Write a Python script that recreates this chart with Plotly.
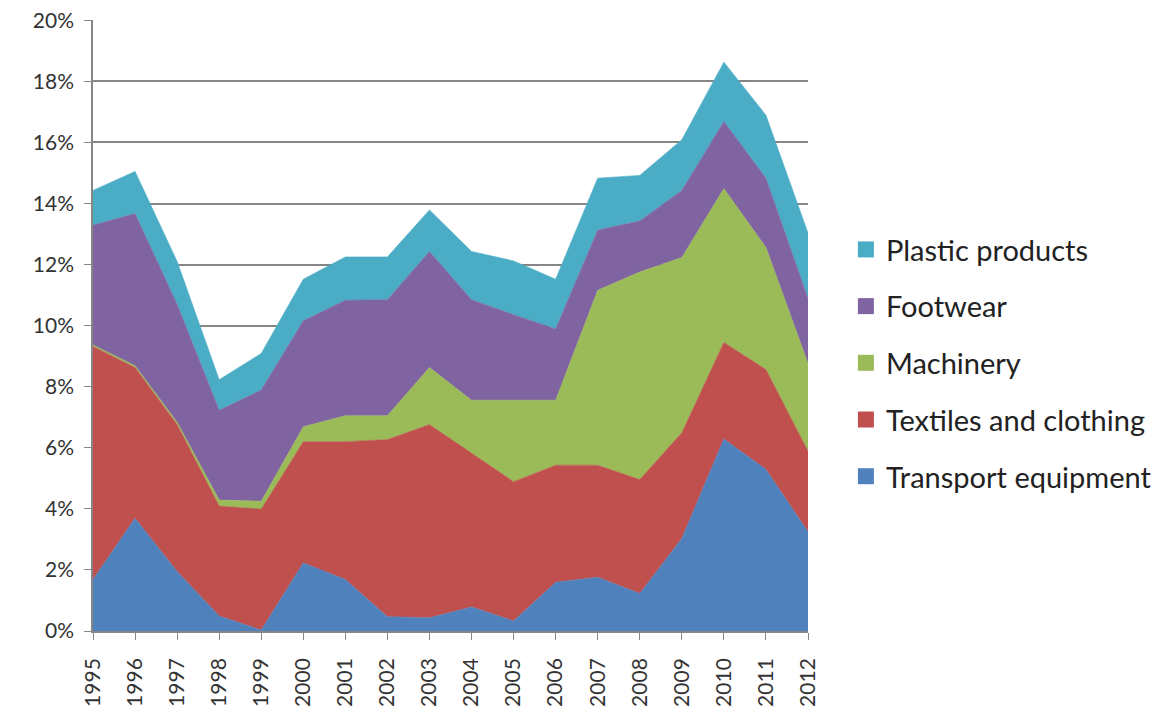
import plotly.graph_objects as go

years = list(range(1995, 2013))
transport = [1.69, 3.69, 1.95, 0.49, 0.03, 2.23, 1.69, 0.47, 0.43, 0.79, 0.33, 1.60, 1.76, 1.23, 3.03, 6.29, 5.29, 3.25]
textiles = [7.63, 4.94, 4.81, 3.60, 3.96, 3.97, 4.51, 5.80, 6.33, 5.04, 4.56, 3.83, 3.67, 3.73, 3.46, 3.16, 3.27, 2.64]
machinery = [0.05, 0.06, 0.08, 0.20, 0.26, 0.49, 0.85, 0.78, 1.87, 1.73, 2.67, 2.13, 5.73, 6.80, 5.74, 5.04, 4.00, 2.87]
footwear = [3.92, 4.98, 3.86, 2.94, 3.64, 3.47, 3.78, 3.80, 3.80, 3.29, 2.80, 2.33, 1.97, 1.67, 2.20, 2.20, 2.27, 2.13]
plastic = [1.14, 1.38, 1.40, 1.00, 1.20, 1.36, 1.42, 1.40, 1.36, 1.58, 1.76, 1.63, 1.70, 1.49, 1.66, 1.94, 2.06, 2.14]

names = ["Transport equipment", "Textiles and clothing", "Machinery", "Footwear", "Plastic products"]
series = [transport, textiles, machinery, footwear, plastic]
colors = ["#4F81BD", "#C0504D", "#9BBB59", "#8064A2", "#4BACC6"]
ytick_vals = [0.0, 0.02, 0.04, 0.06, 0.08, 0.10, 0.12, 0.14, 0.16, 0.18, 0.20]

fig = go.Figure()
for name, vals, col in zip(names, series, colors):
    fig.add_trace(go.Scatter(
        x=years, y=[v / 100 for v in vals], name=name, stackgroup="one",
        mode="lines", line=dict(color=col, width=0.6), fillcolor=col,
        showlegend=False, hoverinfo="x+y+name"))

# legend entries (top to bottom: Plastic ... Transport)
for name, col in reversed(list(zip(names, colors))):
    fig.add_trace(go.Scatter(
        x=[None], y=[None], name=name, mode="markers",
        marker=dict(symbol="square", size=17, color=col),
        legendgroup=name, showlegend=True))

font_family = "Lato, 'Open Sans', sans-serif"
fig.update_layout(
    width=1151, height=715,
    margin=dict(l=85, r=351, t=12, b=92, autoexpand=False),
    paper_bgcolor="white", plot_bgcolor="white",
    font=dict(family=font_family, size=21, color="#333333"),
    legend=dict(x=1.053, y=0.666, xanchor="left", yanchor="top",
                traceorder="grouped", tracegroupgap=16,
                font=dict(size=29, color="#222222"), bgcolor="rgba(0,0,0,0)"),
    showlegend=True,
)
fig.update_xaxes(
    range=[1995, 2012], tickmode="array", tickvals=years, ticktext=[str(y) for y in years],
    tickangle=-90, ticks="outside", ticklen=7, tickcolor="#868686",
    showgrid=False, showline=True, linecolor="#868686", linewidth=1.5,
    zeroline=False, tickfont=dict(size=21), automargin=False, ticklabelstandoff=10,
    ticklabeloverflow="allow")
fig.update_yaxes(
    range=[0, 0.2001], tickmode="array", tickvals=ytick_vals, tickformat=".0%",
    ticks="outside", ticklen=7, tickcolor="#868686",
    showgrid=True, gridcolor="#868686", gridwidth=1.5,
    showline=True, linecolor="#868686", linewidth=1.5, zeroline=False,
    tickfont=dict(size=21), automargin=False, ticklabelstandoff=6,
    ticklabeloverflow="allow")

fig.write_html("out.html")
